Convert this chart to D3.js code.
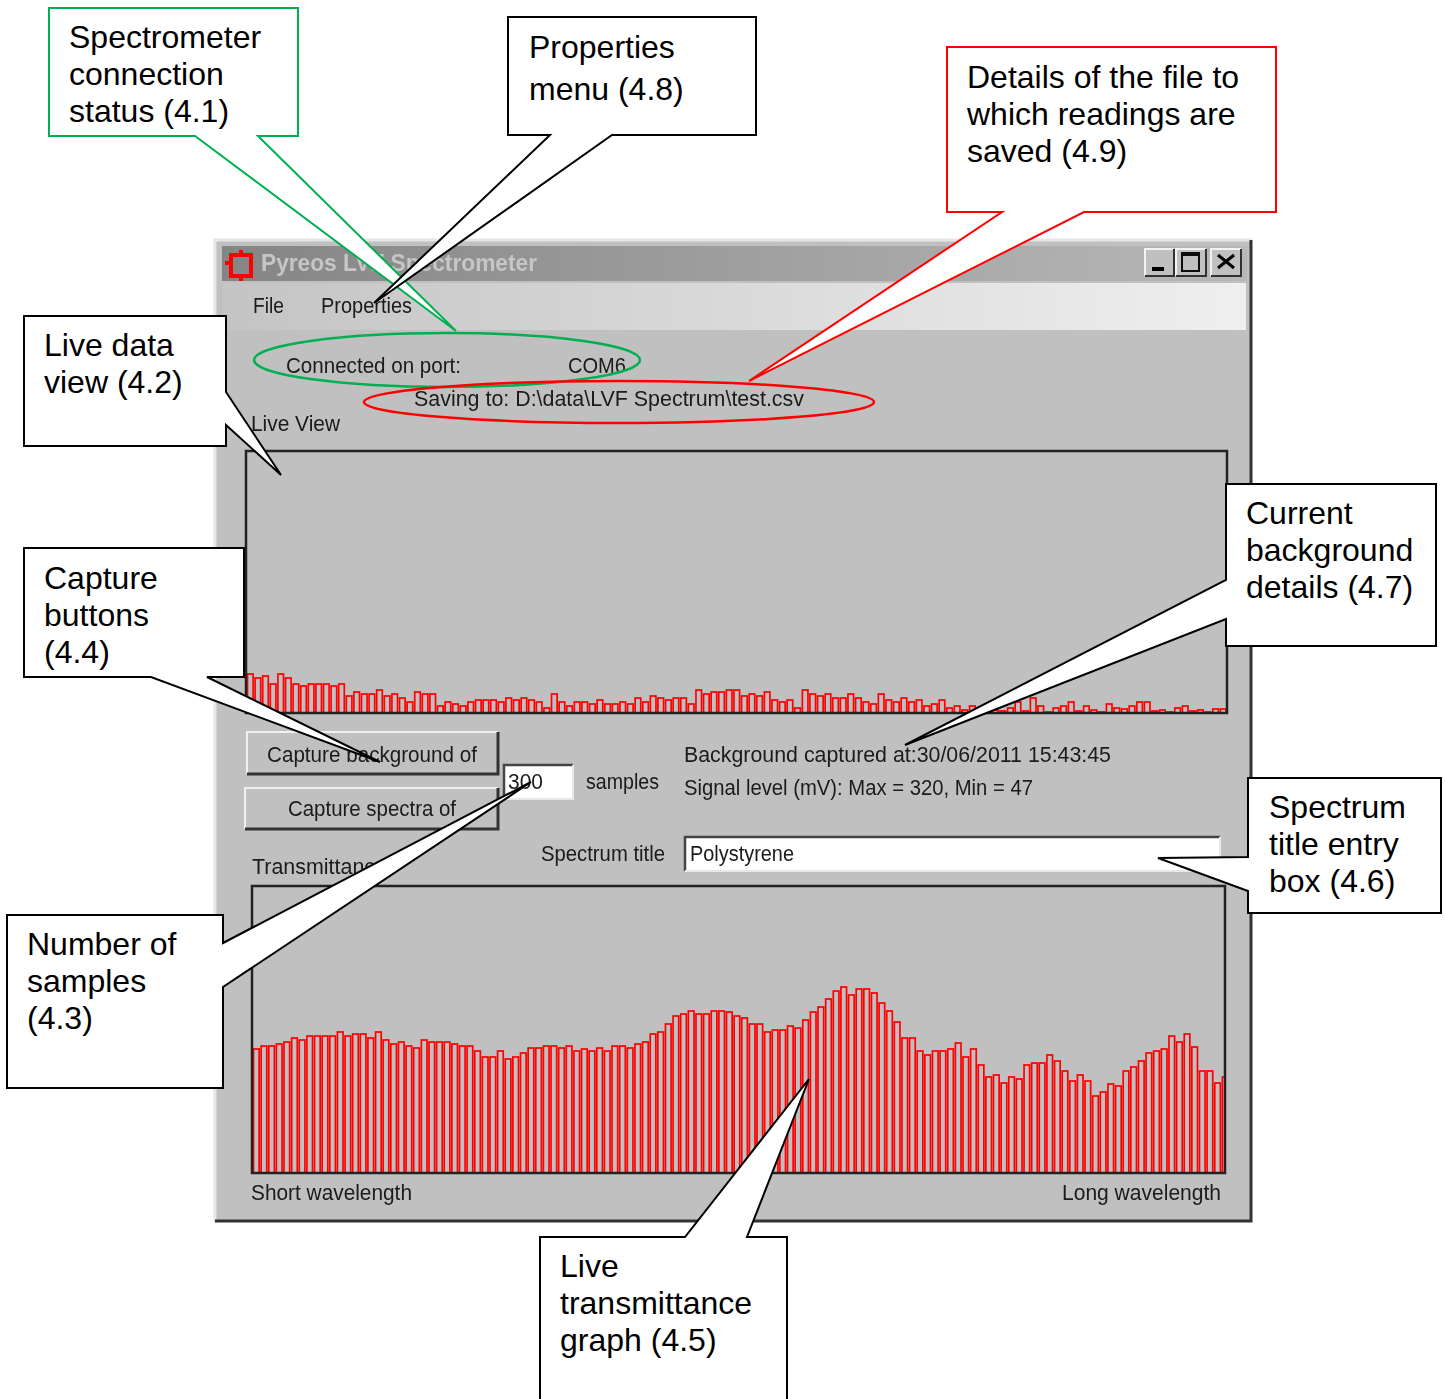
<!DOCTYPE html>
<html>
<head>
<meta charset="utf-8">
<script src="https://cdn.jsdelivr.net/npm/d3@7"></script>
<style>
  html, body { margin: 0; padding: 0; background: #fff; }
  svg { display: block; }
  .ui { font-family: "Liberation Sans", Arial, sans-serif; fill: #1a1a1a; font-size: 22px; }
  .note { font-family: "Liberation Sans", Arial, sans-serif; fill: #000; font-size: 32px; }
</style>
</head>
<body>
<svg id="chart" width="1445" height="1399"></svg>
<script>
// bar heights
const liveValues = [39,35,37,29,39,35,29,27,29,29,29,27,29,17,21,19,19,23,17,19,15,11,21,19,19,7,11,9,7,11,13,13,13,11,15,13,15,13,11,5,19,11,7,11,11,9,13,9,9,11,9,15,11,17,15,13,15,15,9,23,19,21,21,23,
  23,17,19,17,21,13,11,13,5,23,19,17,19,15,15,19,15,11,9,19,13,11,15,11,13,7,9,13,5,7,3,7,3,2,3,2,5,11,2,15,7,1,5,7,11,2,7,3,1,9,5,4,7,11,11,2,3,1,5,7,2,3,1,4,4];

const transValues = [124,127,127,129,131,135,133,137,137,137,137,141,137,139,139,135,141,133,129,131,127,125,133,131,131,131,129,127,127,122,116,116,122,114,116,120,125,125,127,127,125,127,122,124,122,125,122,127,127,125,129,131,139,141,149,157,159,162,159,159,162,162,
  161,157,155,149,149,141,143,143,147,145,153,161,166,174,182,186,178,184,184,180,170,162,151,135,135,122,118,122,122,124,130,116,124,108,96,98,90,96,94,108,110,110,118,112,102,92,98,92,77,81,89,87,102,106,112,120,122,124,137,131,139,126,102,102,90,96];

const plotMax = { live: 262, trans: 287 };

const uiLabels = [
  ['File', 253, 313, 31],
  ['Properties', 321, 313, 91],
  ['Connected on port:', 286, 373, 175],
  ['COM6', 568, 373, 58],
  ['Saving to: D:\\data\\LVF Spectrum\\test.csv', 414, 406, 390],
  ['Live View', 251, 431, 89],
  ['Capture background of', 267, 762, 210],
  ['Capture spectra of', 288, 816, 168],
  ['300', 508, 789, 35],
  ['samples', 586, 789, 73],
  ['Background captured at:30/06/2011 15:43:45', 684, 762, 427],
  ['Signal level (mV): Max = 320, Min = 47', 684, 795, 349],
  ['Transmittance', 252, 874, 135],
  ['Spectrum title', 541, 861, 124],
  ['Polystyrene', 690, 861, 104],
  ['Short wavelength', 251, 1200, 161],
  ['Long wavelength', 1062, 1200, 159]
];

const callouts = [
  { lines: ['Spectrometer', 'connection', 'status (4.1)'], color: '#00b050', textX: 69, textY: 48, step: 37,
    shape: [[49,8],[298,8],[298,136],[258,136],[456,331],[195,136],[49,136]] },
  { lines: ['Properties', 'menu (4.8)'], color: '#000', textX: 529, textY: 58, step: 42,
    shape: [[508,17],[756,17],[756,135],[612,135],[374,303],[550,135],[508,135]] },
  { lines: ['Details of the file to', 'which readings are', 'saved (4.9)'], color: '#f00', textX: 967, textY: 88, step: 37,
    shape: [[947,47],[1276,47],[1276,212],[1084,212],[749,381],[1002,212],[947,212]] },
  { lines: ['Live data', 'view (4.2)'], color: '#000', textX: 44, textY: 356, step: 37,
    shape: [[24,316],[226,316],[226,392],[281,475],[226,425],[226,446],[24,446]] },
  { lines: ['Capture', 'buttons', '(4.4)'], color: '#000', textX: 44, textY: 589, step: 37,
    shape: [[24,548],[244,548],[244,677],[207,677],[380,762],[151,677],[24,677]] },
  { lines: ['Number of', 'samples', '(4.3)'], color: '#000', textX: 27, textY: 955, step: 37,
    shape: [[7,915],[223,915],[223,943],[531,782],[223,987],[223,1088],[7,1088]] },
  { lines: ['Live', 'transmittance', 'graph (4.5)'], color: '#000', textX: 560, textY: 1277, step: 37,
    shape: [[540,1237],[685,1237],[809,1079],[747,1237],[787,1237],[787,1405],[540,1405]] },
  { lines: ['Current', 'background', 'details (4.7)'], color: '#000', textX: 1246, textY: 524, step: 37,
    shape: [[1226,484],[1436,484],[1436,646],[1226,646],[1226,619],[905,745],[1226,580]] },
  { lines: ['Spectrum', 'title entry', 'box (4.6)'], color: '#000', textX: 1269, textY: 818, step: 37,
    shape: [[1248,778],[1441,778],[1441,913],[1248,913],[1248,891],[1158,858],[1248,857]] }
];

const rings = [
  { cx: 447, cy: 360, rx: 193, ry: 27, color: '#00b050' },
  { cx: 619, cy: 402, rx: 255, ry: 21, color: '#f00' }
];

const svg = d3.select('#chart');
const defs = svg.append('defs');

function gradient(id, from, to) {
  const g = defs.append('linearGradient').attr('id', id);
  g.append('stop').attr('offset', 0).attr('stop-color', from);
  g.append('stop').attr('offset', 1).attr('stop-color', to);
}
gradient('titleGrad', '#858585', '#b8b8b8');
gradient('menuGrad', '#c4c4c4', '#efefef');
defs.append('filter').attr('id', 'soft').append('feGaussianBlur').attr('stdDeviation', 0.45);

const win = svg.append('g').attr('filter', 'url(#soft)');

// window chrome
win.append('rect').attr('x', 215).attr('y', 240).attr('width', 1037).attr('height', 982).attr('fill', '#c0c0c0');
win.append('path').attr('d', 'M215,1222V240H1252').attr('fill', 'none').attr('stroke', '#e6e6e6').attr('stroke-width', 3);
win.append('path').attr('d', 'M215,1221H1251V240').attr('fill', 'none').attr('stroke', '#333').attr('stroke-width', 3);
win.append('rect').attr('x', 222).attr('y', 246).attr('width', 1025).attr('height', 35).attr('fill', 'url(#titleGrad)');
win.append('rect').attr('x', 222).attr('y', 283).attr('width', 1024).attr('height', 47).attr('fill', 'url(#menuGrad)');
win.append('text').attr('class', 'ui').attr('x', 261).attr('y', 271)
  .attr('textLength', 276).attr('lengthAdjust', 'spacingAndGlyphs')
  .style('font-weight', 'bold').style('fill', '#c6c6c6').style('font-size', '23px').text('Pyreos LVF Spectrometer');

// title bar icon
win.append('rect').attr('x', 231).attr('y', 255).attr('width', 20).attr('height', 21)
  .attr('fill', 'none').attr('stroke', '#f00').attr('stroke-width', 4);
win.selectAll('.iconDot').data([[241, 252], [241, 279], [227, 263]]).join('rect')
  .attr('x', d => d[0] - 2).attr('y', d => d[1] - 2).attr('width', 4).attr('height', 4).attr('fill', '#f00');

// caption buttons
const capButtons = [[1145, 29], [1176, 30], [1211, 30]];
capButtons.forEach(([x, w], i) => {
  const b = win.append('g').attr('transform', `translate(${x},249)`);
  b.append('rect').attr('width', w).attr('height', 27).attr('fill', '#c0c0c0');
  b.append('path').attr('d', `M0,27V0H${w}`).attr('fill', 'none').attr('stroke', '#f2f2f2').attr('stroke-width', 2);
  b.append('path').attr('d', `M0,27H${w}V0`).attr('fill', 'none').attr('stroke', '#333').attr('stroke-width', 2);
  if (i === 0) b.append('rect').attr('x', 7).attr('y', 18).attr('width', 12).attr('height', 4).attr('fill', '#000');
  if (i === 1) {
    b.append('rect').attr('x', 6).attr('y', 4).attr('width', 17).attr('height', 18).attr('fill', 'none').attr('stroke', '#111').attr('stroke-width', 2);
    b.append('rect').attr('x', 6).attr('y', 4).attr('width', 17).attr('height', 3).attr('fill', '#111');
  }
  if (i === 2) b.append('path').attr('d', 'M7,6L23,19M23,6L7,19').attr('stroke', '#000').attr('stroke-width', 3);
});

// raised buttons and entry boxes
function raised(x, y, w, h) {
  win.append('rect').attr('x', x).attr('y', y).attr('width', w).attr('height', h).attr('fill', '#c0c0c0');
  win.append('path').attr('d', `M${x},${y + h}V${y}H${x + w}`).attr('fill', 'none').attr('stroke', '#f0f0f0').attr('stroke-width', 2);
  win.append('path').attr('d', `M${x},${y + h}H${x + w}V${y}`).attr('fill', 'none').attr('stroke', '#333').attr('stroke-width', 3);
}
function sunken(x, y, w, h) {
  win.append('rect').attr('x', x).attr('y', y).attr('width', w).attr('height', h).attr('fill', '#fff');
  win.append('path').attr('d', `M${x},${y + h}V${y}H${x + w}`).attr('fill', 'none').attr('stroke', '#444').attr('stroke-width', 2.5);
  win.append('path').attr('d', `M${x},${y + h}H${x + w}V${y}`).attr('fill', 'none').attr('stroke', '#e8e8e8').attr('stroke-width', 2);
}
raised(247, 732, 251, 42);
raised(245, 788, 253, 41);
sunken(504, 765, 69, 34);
sunken(685, 837, 535, 34);

// bar panels, bars run past the right edge so the frame clips the last one
function drawBars(id, values, x0, xEnd, frameX, x1, y0, y1, max) {
  const x = d3.scaleBand().domain(d3.range(values.length)).range([x0, xEnd]);
  const y = d3.scaleLinear().domain([0, max]).range([y1, y0]);
  defs.append('clipPath').attr('id', id).append('rect')
    .attr('x', frameX).attr('y', y0).attr('width', x1 - frameX).attr('height', y1 - y0);
  win.append('g').attr('clip-path', `url(#${id})`).selectAll('rect').data(values).join('rect')
    .attr('x', (d, i) => x(i) + 1)
    .attr('y', d => y(d))
    .attr('width', x.bandwidth() - 2)
    .attr('height', d => y(0) - y(d))
    .attr('fill', 'none')
    .attr('stroke', '#f00')
    .attr('stroke-width', 1.7);
  win.append('rect').attr('x', frameX).attr('y', y0).attr('width', x1 - frameX).attr('height', y1 - y0)
    .attr('fill', 'none').attr('stroke', '#222').attr('stroke-width', 2.5);
}
drawBars('liveClip', liveValues, 246.5, 1227, 246, 1227, 451, 713, plotMax.live);
drawBars('transClip', transValues, 252.5, 1229, 252, 1225, 886, 1173, plotMax.trans);

win.selectAll('.uiLabel').data(uiLabels).join('text')
  .attr('class', 'ui')
  .attr('x', d => d[1]).attr('y', d => d[2])
  .attr('textLength', d => d[3]).attr('lengthAdjust', 'spacingAndGlyphs')
  .text(d => d[0]);

// annotations on top of the window
const notes = svg.append('g');
notes.selectAll('ellipse').data(rings).join('ellipse')
  .attr('cx', d => d.cx).attr('cy', d => d.cy).attr('rx', d => d.rx).attr('ry', d => d.ry)
  .attr('fill', 'none').attr('stroke', d => d.color).attr('stroke-width', 2.5);

const callout = notes.selectAll('g.callout').data(callouts).join('g').attr('class', 'callout');
callout.append('path')
  .attr('d', d => d3.line()(d.shape) + 'Z')
  .attr('fill', '#fff').attr('stroke', d => d.color).attr('stroke-width', 2);
callout.each(function(d) {
  d3.select(this).selectAll('text').data(d.lines).join('text')
    .attr('class', 'note')
    .attr('x', d.textX)
    .attr('y', (t, i) => d.textY + i * d.step)
    .text(t => t);
});
</script>
</body>
</html>
